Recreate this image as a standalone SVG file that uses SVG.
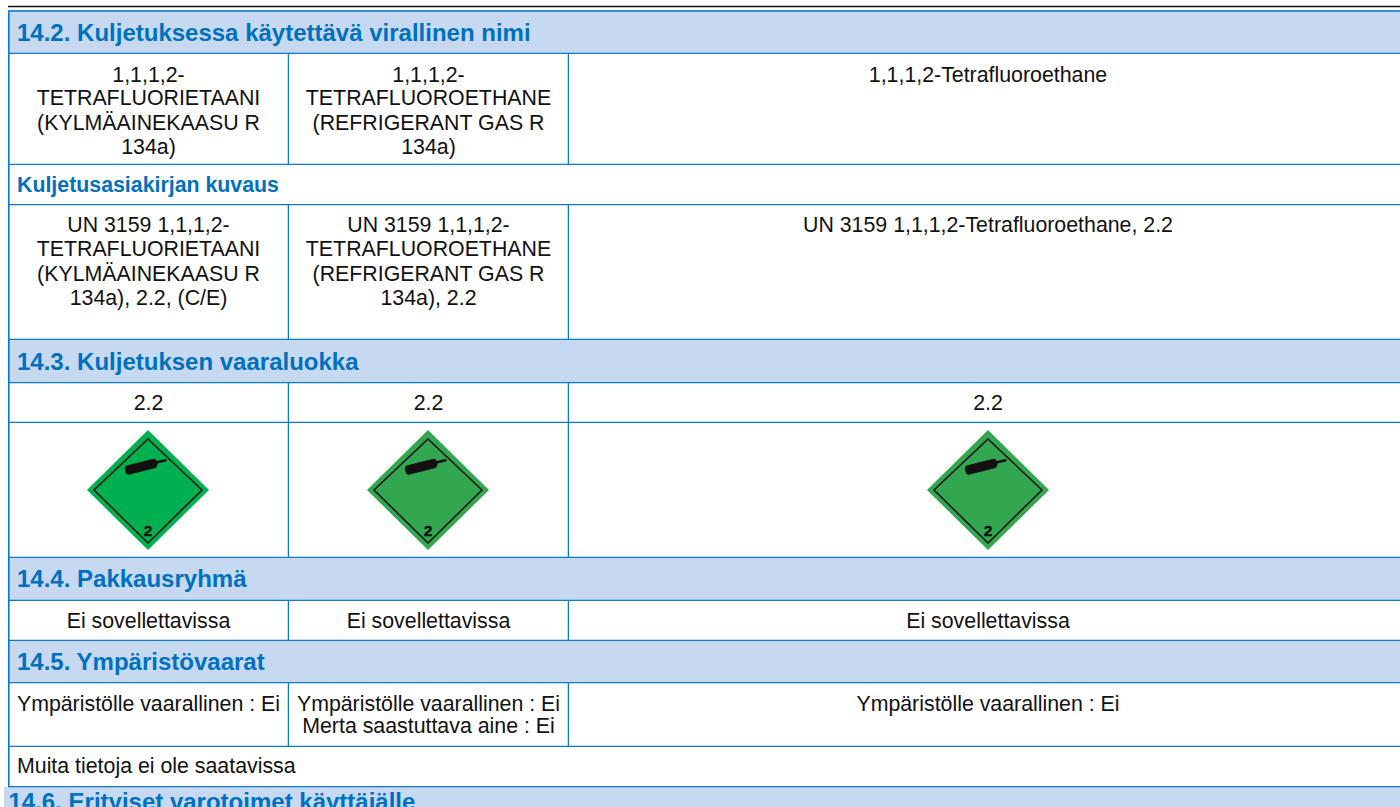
<svg xmlns="http://www.w3.org/2000/svg" width="1400" height="807" viewBox="0 0 1400 807">
<style>
text{font-family:"Liberation Sans",Arial,sans-serif;font-size:21.33px;fill:#111}
.c{text-anchor:middle}
.h{font-weight:bold;font-size:24px;fill:#0070c0}
.s{font-weight:bold;font-size:21.33px;fill:#0070c0}
.band{fill:#c6d9f1}
.l{stroke:#0f79cc;stroke-width:1.300;fill:none}
.o{fill:#00b050}.o2{fill:#33a650}
.i{fill:none;stroke:#111;stroke-width:1.500}
.n{font-size:15.500px;font-weight:bold;text-anchor:middle;stroke:#111;stroke-width:.4}
</style>
<defs>
<g id="cyl" transform="translate(-22.700 -19.300) rotate(-14)"><path d="M3.500-4.800H29Q32-4.800 33-1.800H42.500V.8H33Q32 4.800 29 4.800H3.500Q0 4.800 0 1.500V-1.500Q0-4.800 3.500-4.800Z" fill="#111"/></g>
</defs>
<rect width="1400" height="807" fill="#fff"/>
<line x1="8" y1="6.500" x2="1400" y2="6.500" stroke="#111" stroke-width="1.300"/>
<rect class="band" x="8" y="11" width="1392" height="42"/>
<rect class="band" x="8" y="339" width="1392" height="44"/>
<rect class="band" x="8" y="557" width="1392" height="43"/>
<rect class="band" x="8" y="640" width="1392" height="43"/>
<rect class="band" x="4" y="787" width="1396" height="20"/>
<g id="grid">
<path class="l" style="stroke-width:1.700" d="M8.800 10V787"/>
<path class="l" style="stroke-width:2;stroke:#3a90d8" d="M8 11H1400"/>
<path class="l" d="M8 53.300H1400M8 164.300H1400M8 204.700H1400M8 339.300H1400M8 382.700H1400M8 422.300H1400M8 557.300H1400M8 600.300H1400M8 640.300H1400M8 682.700H1400M8 746.300H1400M8 786.700H1400"/>
<path class="l" d="M288.400 53V164M568.400 53V164M288.400 205V339M568.400 205V339M288.400 383V557M568.400 383V557M288.400 600V640M568.400 600V640M288.400 683V746M568.400 683V746"/>
</g>
<g id="s142">
<text class="h" x="17" y="40.700">14.2. Kuljetuksessa käytettävä virallinen nimi</text>
<text class="c" x="148.500" y="82">1,1,1,2-</text>
<text class="c" x="148.500" y="105">TETRAFLUORIETAANI</text>
<text class="c" x="148.500" y="130">(KYLMÄAINEKAASU R</text>
<text class="c" x="148.500" y="154">134a)</text>
<text class="c" x="428.500" y="82">1,1,1,2-</text>
<text class="c" x="428.500" y="105">TETRAFLUOROETHANE</text>
<text class="c" x="428.500" y="130">(REFRIGERANT GAS R</text>
<text class="c" x="428.500" y="154">134a)</text>
<text class="c" x="988" y="82">1,1,1,2-Tetrafluoroethane</text>
</g>
<g id="kuvaus">
<text class="s" x="17" y="191.700">Kuljetusasiakirjan kuvaus</text>
<text class="c" x="148.500" y="232">UN 3159 1,1,1,2-</text>
<text class="c" x="148.500" y="256">TETRAFLUORIETAANI</text>
<text class="c" x="148.500" y="280.500">(KYLMÄAINEKAASU R</text>
<text class="c" x="148.500" y="305">134a), 2.2, (C/E)</text>
<text class="c" x="428.500" y="232">UN 3159 1,1,1,2-</text>
<text class="c" x="428.500" y="256">TETRAFLUOROETHANE</text>
<text class="c" x="428.500" y="280.500">(REFRIGERANT GAS R</text>
<text class="c" x="428.500" y="305">134a), 2.2</text>
<text class="c" x="988" y="232">UN 3159 1,1,1,2-Tetrafluoroethane, 2.2</text>
</g>
<g id="s143">
<text class="h" x="17" y="370">14.3. Kuljetuksen vaaraluokka</text>
<text class="c" x="148.500" y="410">2.2</text>
<text class="c" x="428.500" y="410">2.2</text>
<text class="c" x="988" y="410">2.2</text>
</g>
<g id="label1" transform="translate(148 490)">
<path class="o" d="M0-60L61 0 0 60-61 0Z"/><path class="i" d="M0-51L54 0 0 53-54 0Z"/><use href="#cyl"/><text class="n" y="45.500">2</text>
</g>
<g id="label2" transform="translate(428 490)">
<path class="o2" d="M0-60L61 0 0 60-61 0Z"/><path class="i" d="M0-51L54 0 0 53-54 0Z"/><use href="#cyl"/><text class="n" y="45.500">2</text>
</g>
<g id="label3" transform="translate(988 490)">
<path class="o2" d="M0-60L61 0 0 60-61 0Z"/><path class="i" d="M0-51L54 0 0 53-54 0Z"/><use href="#cyl"/><text class="n" y="45.500">2</text>
</g>
<g id="s144">
<text class="h" x="17" y="587">14.4. Pakkausryhmä</text>
<text class="c" x="148.500" y="628.300">Ei sovellettavissa</text>
<text class="c" x="428.500" y="628.300">Ei sovellettavissa</text>
<text class="c" x="988" y="628.300">Ei sovellettavissa</text>
</g>
<g id="s145">
<text class="h" x="17" y="670">14.5. Ympäristövaarat</text>
<text class="c" x="148.500" y="710.700">Ympäristölle vaarallinen : Ei</text>
<text class="c" x="428.500" y="710.700">Ympäristölle vaarallinen : Ei</text>
<text class="c" x="428.500" y="733.300">Merta saastuttava aine : Ei</text>
<text class="c" x="988" y="710.700">Ympäristölle vaarallinen : Ei</text>
<text x="17" y="773">Muita tietoja ei ole saatavissa</text>
</g>
<g id="s146"><text class="h" x="8.500" y="809.500">14.6. Erityiset varotoimet käyttäjälle</text></g>
</svg>
